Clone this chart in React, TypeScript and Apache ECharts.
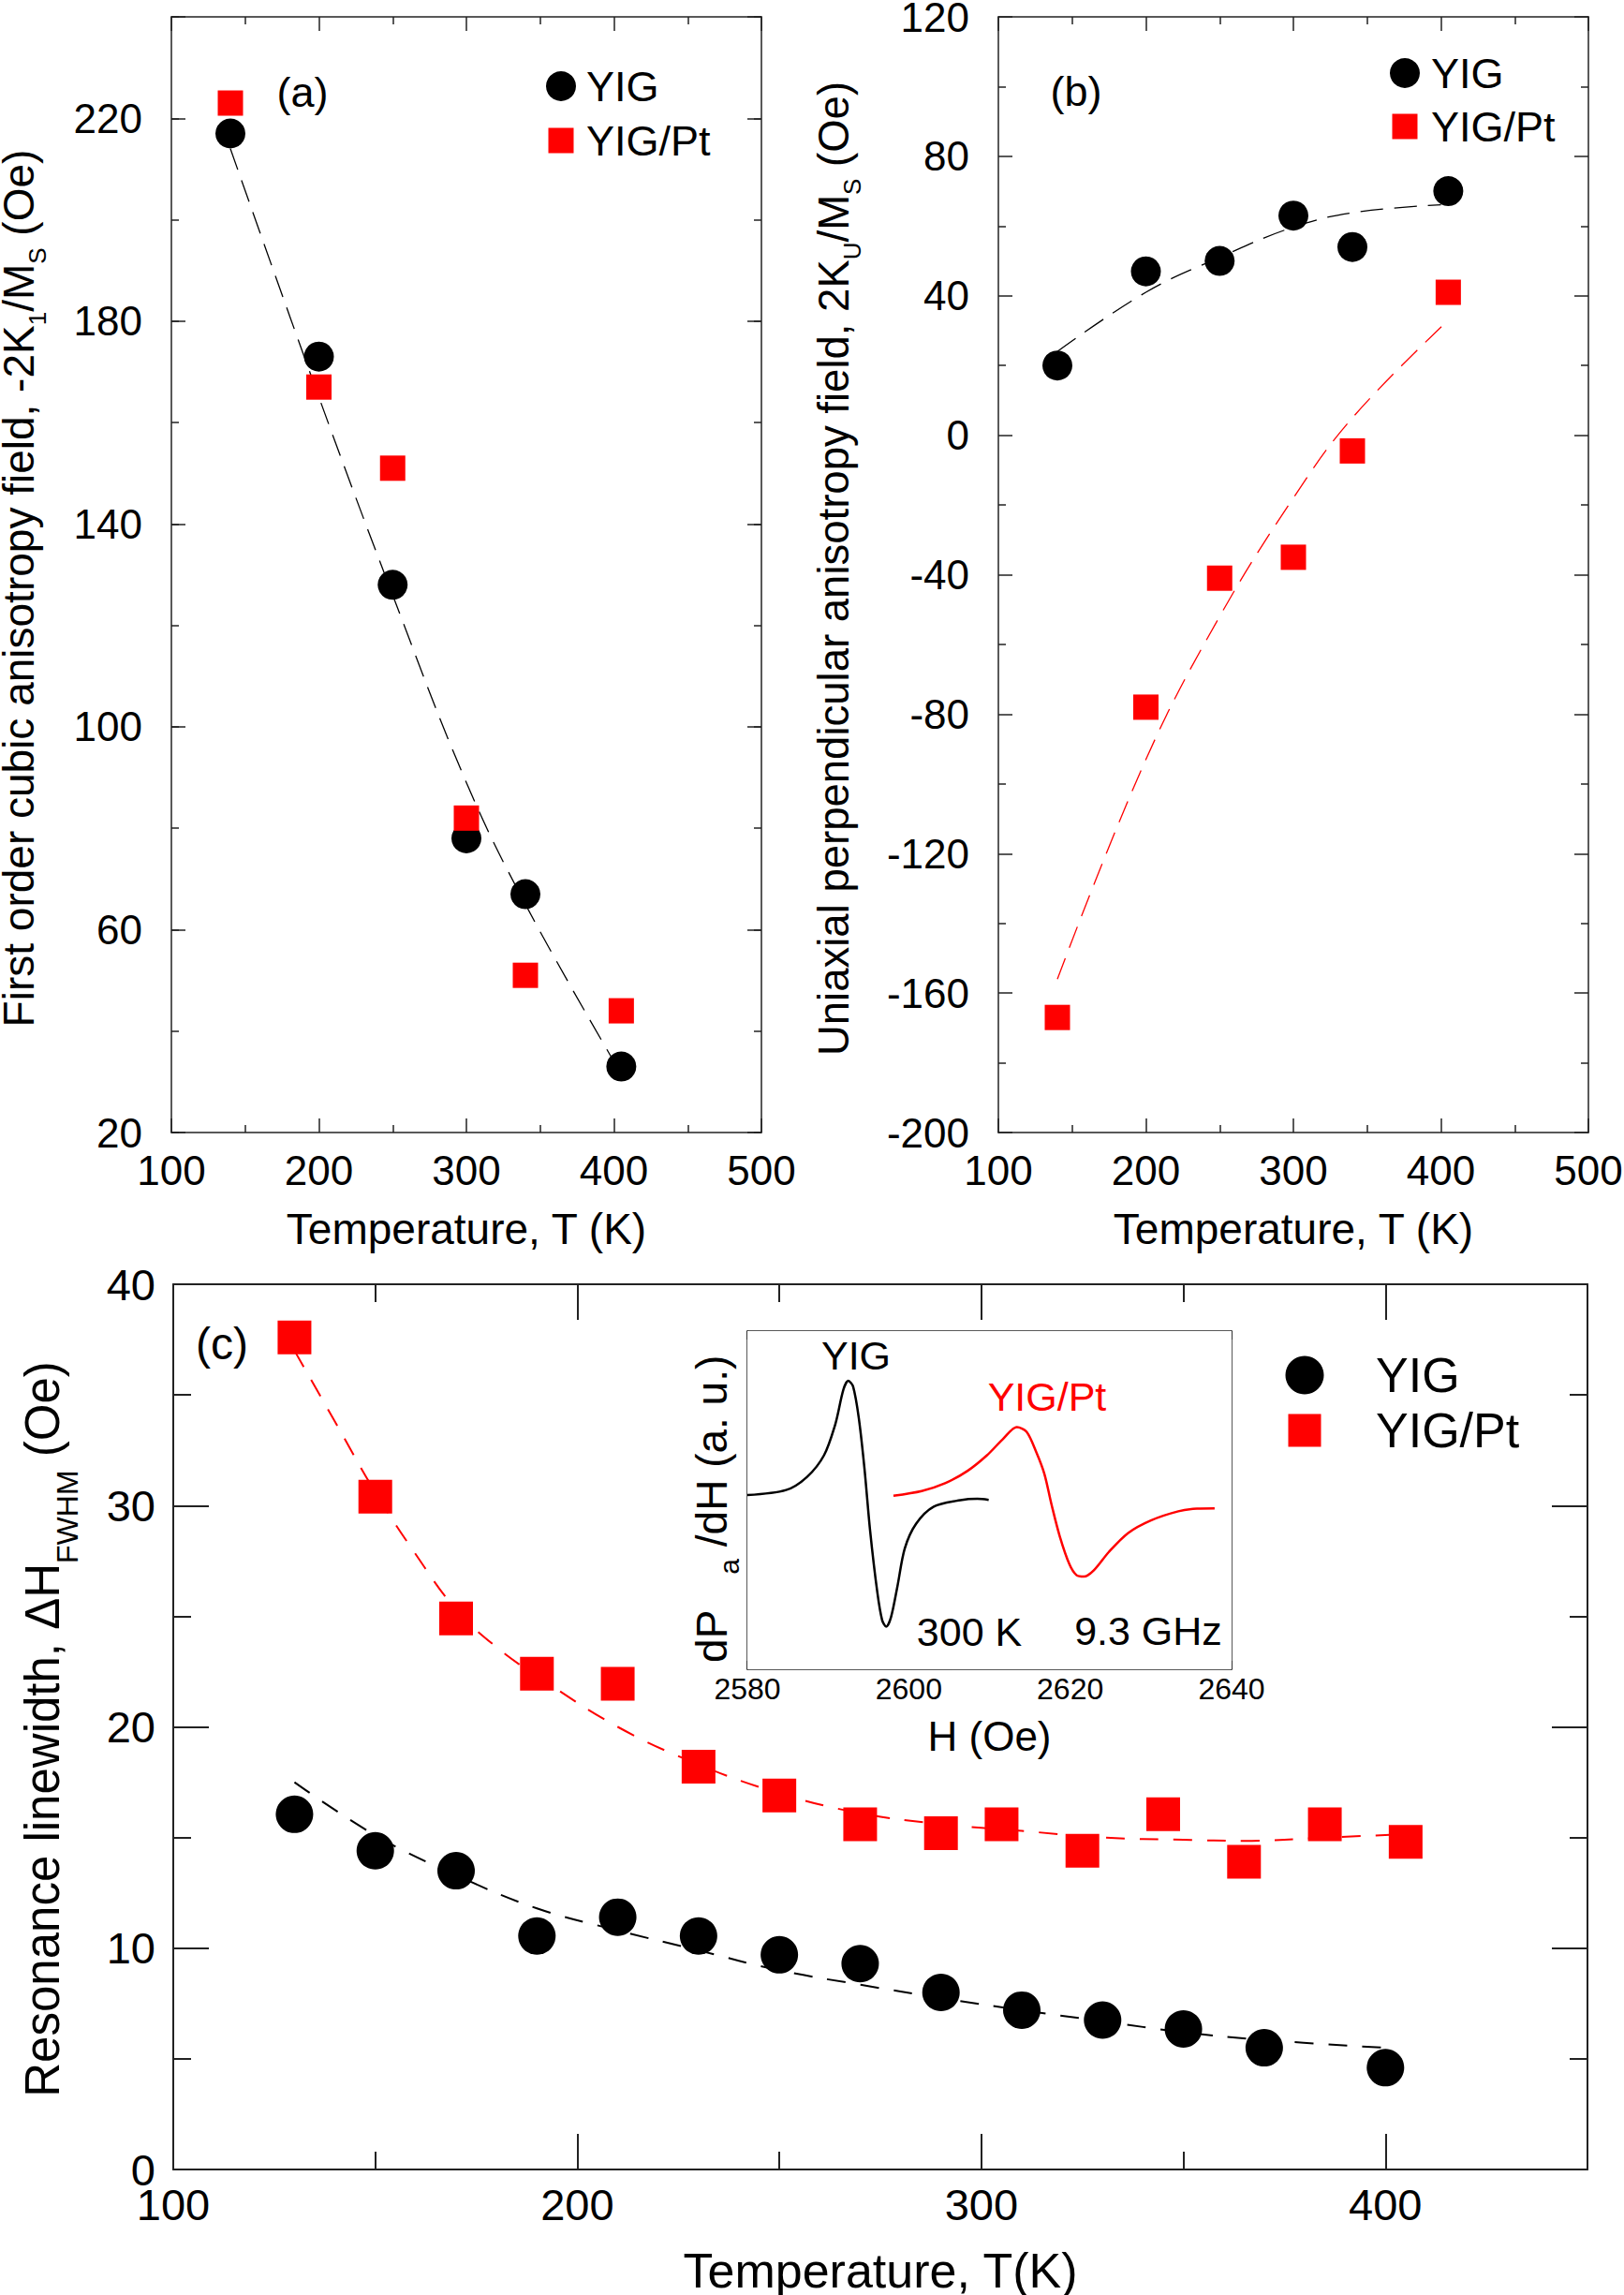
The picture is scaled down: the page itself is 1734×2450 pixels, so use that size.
import React, { useEffect, useRef } from 'react';
import * as echarts from 'echarts';

const FONT = "'Liberation Sans', Arial, Helvetica, sans-serif";

// ---------- Panel (a): first order cubic anisotropy field ----------
const tempA = [140, 200, 250, 300, 340, 405];
const cubicYIG = [217, 173, 128, 78, 67, 33];
const cubicYIGPt = [223, 167, 151, 82, 51, 44];
const cubicFitT = [140, 200, 250, 300, 340, 400];
const cubicFit = [214, 165, 126, 89, 65, 34];
const tickAX = [100, 200, 300, 400, 500];
const tickAY = [20, 60, 100, 140, 180, 220];

// ---------- Panel (b): uniaxial perpendicular anisotropy field ----------
const tempB = [140, 200, 250, 300, 340, 405];
const uniYIG = [20, 47, 50, 63, 54, 70];
const uniYIGPt = [-167, -78, -41, -35, -4.5, 41];
const uniFitYIGT = [140, 200, 250, 300, 340, 400];
const uniFitYIG = [24, 41, 51, 59.7, 63.8, 66.1];
const uniFitPtT = [140, 200, 250, 300, 340, 405];
const uniFitPt = [-156, -93, -52, -18, 5, 33];
const tickBY = [-200, -160, -120, -80, -40, 0, 40, 80, 120];

// ---------- Panel (c): resonance linewidth ----------
const tempCPt = [130, 150, 170, 190, 210, 230, 250, 270, 290, 305, 325, 345, 365, 385, 405];
const lwYIGPt = [37.6, 30.4, 24.9, 22.4, 21.95, 18.2, 16.9, 15.6, 15.2, 15.6, 14.4, 16.05, 13.9, 15.6, 14.8];
const tempCYIG = [130, 150, 170, 190, 210, 230, 250, 270, 290, 310, 330, 350, 370, 400];
const lwYIG = [16.05, 14.4, 13.5, 10.55, 11.4, 10.55, 9.7, 9.3, 8.0, 7.2, 6.75, 6.35, 5.5, 4.6];
const fitPtT = [130, 140, 150, 160, 170, 180, 190, 210, 230, 250, 270, 290, 310, 330, 350, 365, 385, 405];
const fitPt = [37.0, 33.8, 30.6, 27.8, 25.3, 23.6, 22.3, 20.0, 18.3, 17.0, 16.1, 15.6, 15.3, 15.0, 14.9, 14.85, 15.0, 15.15];
const fitYIGT = [130, 150, 170, 190, 210, 230, 250, 270, 290, 310, 330, 350, 370, 400];
const fitYIG = [17.5, 15.1, 13.3, 11.8, 10.8, 9.9, 9.0, 8.35, 7.75, 7.2, 6.7, 6.2, 5.85, 5.5];
const tickCX = [100, 200, 300, 400];
const tickCY = [0, 10, 20, 30, 40];

// ---------- Inset: FMR spectra ----------
const fieldYIG = [2580, 2584.8, 2587.4, 2589.5, 2590.9, 2591.9, 2592.5, 2593.1, 2593.8, 2594.5, 2595.2, 2596.1, 2596.7, 2597.2, 2597.8, 2598.6, 2599.5, 2600.9, 2603.1, 2606.4, 2608.5, 2609.9];
const signalYIG = [51.5, 53.0, 56.9, 63.3, 72.5, 82.7, 85.3, 83.6, 74.4, 59.6, 41.2, 22.8, 14.5, 12.6, 15.4, 24.6, 35.7, 43.0, 48.1, 50.0, 50.4, 50.1];
const fieldPt = [2598.1, 2601.6, 2604.5, 2607.3, 2609.7, 2611.6, 2613.4, 2614.6, 2615.8, 2616.8, 2617.7, 2618.7, 2619.9, 2620.8, 2621.7, 2622.9, 2624.8, 2627.2, 2630.0, 2633.4, 2635.7, 2637.9];
const signalPt = [51.3, 52.7, 55.0, 58.7, 63.3, 67.9, 71.6, 70.2, 64.2, 57.8, 48.6, 39.4, 31.1, 27.8, 27.4, 29.2, 34.7, 40.3, 44.0, 46.7, 47.5, 47.6];
const tickInsetX = [2580, 2600, 2620, 2640];

const RED = '#ff0000';
const BLACK = '#000000';

function zip(xs: number[], ys: number[]) {
  return xs.map((x, i) => [x, ys[i]]);
}

type AxisCfg = {
  grid: number;
  pos: 'top' | 'bottom' | 'left' | 'right';
  min: number;
  max: number;
  interval: number;
  labels?: number[];
  labelSize?: number;
  margin?: number;
  tick: number;
  minor?: number;
  color: string;
  width: number;
  showLine?: boolean;
  name?: string;
  nameGap?: number;
  nameSize?: number;
};

function axis(c: AxisCfg) {
  const labels = c.labels;
  return {
    type: 'value',
    gridIndex: c.grid,
    position: c.pos,
    min: c.min,
    max: c.max,
    interval: c.interval,
    axisLine: { show: c.showLine !== false, onZero: false, lineStyle: { color: c.color, width: c.width } },
    axisTick: { show: c.tick > 0, inside: true, length: c.tick, lineStyle: { color: c.color, width: c.width } },
    minorTick: { show: !!c.minor, splitNumber: 2, length: c.minor || 0, lineStyle: { color: c.color, width: c.width } },
    splitLine: { show: false },
    minorSplitLine: { show: false },
    axisLabel: labels
      ? {
          show: true,
          margin: c.margin,
          fontSize: c.labelSize,
          fontFamily: FONT,
          color: '#000',
          showMinLabel: true,
          showMaxLabel: true,
          formatter: (v: number) => (labels.some((l) => Math.abs(l - v) < 1e-6) ? String(v) : ''),
        }
      : { show: false },
    name: c.name || '',
    nameLocation: 'middle',
    nameGap: c.nameGap || 0,
    nameTextStyle: { fontSize: c.nameSize || 12, fontFamily: FONT, color: '#000' },
  };
}

const FR = '#222';

function buildOption() {
  const grid = [
    { left: 183, top: 18, width: 630, height: 1191, outerBoundsMode: 'none' },
    { left: 1066, top: 18, width: 630, height: 1191, outerBoundsMode: 'none' },
    { left: 185, top: 1371, width: 1510, height: 945, outerBoundsMode: 'none' },
    { left: 798, top: 1421, width: 517, height: 361, show: true, backgroundColor: '#fff', borderWidth: 0, outerBoundsMode: 'none', z: 5 },
  ];

  const xAxis = [
    axis({ grid: 0, pos: 'bottom', min: 100, max: 500, interval: 100, labels: tickAX, labelSize: 44, margin: 18, tick: 15, minor: 8, color: FR, width: 1.5, name: 'Temperature, T (K)', nameGap: 80, nameSize: 46 }),
    axis({ grid: 0, pos: 'top', min: 100, max: 500, interval: 100, tick: 15, minor: 8, color: FR, width: 1.5 }),
    axis({ grid: 1, pos: 'bottom', min: 100, max: 500, interval: 100, labels: tickAX, labelSize: 44, margin: 18, tick: 15, minor: 8, color: FR, width: 1.5, name: 'Temperature, T (K)', nameGap: 80, nameSize: 46 }),
    axis({ grid: 1, pos: 'top', min: 100, max: 500, interval: 100, tick: 15, minor: 8, color: FR, width: 1.5 }),
    axis({ grid: 2, pos: 'bottom', min: 100, max: 450, interval: 50, labels: tickCX, labelSize: 47, margin: 14, tick: 19, color: FR, width: 2, name: 'Temperature, T(K)', nameGap: 82, nameSize: 52 }),
    axis({ grid: 2, pos: 'bottom', min: 100, max: 450, interval: 100, tick: 38, color: FR, width: 2, showLine: false }),
    axis({ grid: 2, pos: 'top', min: 100, max: 450, interval: 50, tick: 19, color: FR, width: 2 }),
    axis({ grid: 2, pos: 'top', min: 100, max: 450, interval: 100, tick: 38, color: FR, width: 2, showLine: false }),
    axis({ grid: 3, pos: 'bottom', min: 2580, max: 2640, interval: 10, labels: tickInsetX, labelSize: 32, margin: 5, tick: 9, color: FR, width: 1.5, name: 'H (Oe)', nameGap: 49, nameSize: 44 }),
    axis({ grid: 3, pos: 'top', min: 2580, max: 2640, interval: 10, tick: 9, color: FR, width: 1.5 }),
  ];

  const yAxis = [
    axis({ grid: 0, pos: 'left', min: 20, max: 240, interval: 20, labels: tickAY, labelSize: 44, margin: 31, tick: 8, color: FR, width: 1.5 }),
    axis({ grid: 0, pos: 'left', min: 20, max: 240, interval: 40, tick: 15, color: FR, width: 1.5, showLine: false }),
    axis({ grid: 0, pos: 'right', min: 20, max: 240, interval: 20, tick: 8, color: FR, width: 1.5 }),
    axis({ grid: 0, pos: 'right', min: 20, max: 240, interval: 40, tick: 15, color: FR, width: 1.5, showLine: false }),
    axis({ grid: 1, pos: 'left', min: -200, max: 120, interval: 40, labels: tickBY, labelSize: 44, margin: 31, tick: 15, minor: 8, color: FR, width: 1.5 }),
    axis({ grid: 1, pos: 'right', min: -200, max: 120, interval: 40, tick: 15, minor: 8, color: FR, width: 1.5 }),
    axis({ grid: 2, pos: 'left', min: 0, max: 40, interval: 10, labels: tickCY, labelSize: 47, margin: 19, tick: 38, minor: 19, color: FR, width: 2 }),
    axis({ grid: 2, pos: 'right', min: 0, max: 40, interval: 10, tick: 38, minor: 19, color: FR, width: 2 }),
    axis({ grid: 3, pos: 'left', min: 0, max: 100, interval: 50, tick: 0, color: FR, width: 1.5 }),
    axis({ grid: 3, pos: 'right', min: 0, max: 100, interval: 50, tick: 0, color: FR, width: 1.5 }),
  ];

  const fitLine = (name: string, xi: number, yi: number, xs: number[], ys: number[], color: string, width: number, dash: number[]) => ({
    name,
    type: 'line',
    xAxisIndex: xi,
    yAxisIndex: yi,
    data: zip(xs, ys),
    symbol: 'none',
    smooth: 0.4,
    lineStyle: { color, width, type: dash },
    z: 2,
    silent: true,
  });
  const scatter = (name: string, xi: number, yi: number, xs: number[], ys: number[], symbol: string, size: number, color: string) => ({
    name,
    type: 'scatter',
    xAxisIndex: xi,
    yAxisIndex: yi,
    data: zip(xs, ys),
    symbol,
    symbolSize: size,
    itemStyle: { color, opacity: 1 },
    z: 4,
  });

  const series = [
    fitLine('fit a', 0, 0, cubicFitT, cubicFit, BLACK, 1.3, [24, 12]),
    scatter('YIG', 0, 0, tempA, cubicYIG, 'circle', 32, BLACK),
    scatter('YIG/Pt', 0, 0, tempA, cubicYIGPt, 'rect', 27, RED),

    fitLine('fit b YIG', 2, 4, uniFitYIGT, uniFitYIG, BLACK, 1.3, [24, 12]),
    fitLine('fit b YIG/Pt', 2, 4, uniFitPtT, uniFitPt, RED, 1.3, [24, 12]),
    scatter('YIG', 2, 4, tempB, uniYIG, 'circle', 32, BLACK),
    scatter('YIG/Pt', 2, 4, tempB, uniYIGPt, 'rect', 27, RED),

    fitLine('fit c YIG/Pt', 4, 6, fitPtT, fitPt, RED, 2, [20, 16]),
    fitLine('fit c YIG', 4, 6, fitYIGT, fitYIG, BLACK, 2, [20, 16]),
    scatter('YIG/Pt', 4, 6, tempCPt, lwYIGPt, 'rect', 36, RED),
    scatter('YIG', 4, 6, tempCYIG, lwYIG, 'circle', 40, BLACK),

    {
      name: 'inset YIG', type: 'line', xAxisIndex: 8, yAxisIndex: 8, data: zip(fieldYIG, signalYIG),
      symbol: 'none', smooth: 0.3, lineStyle: { color: BLACK, width: 2.5 }, z: 6, silent: true,
    },
    {
      name: 'inset YIG/Pt', type: 'line', xAxisIndex: 8, yAxisIndex: 8, data: zip(fieldPt, signalPt),
      symbol: 'none', smooth: 0.3, lineStyle: { color: RED, width: 2.5 }, z: 6, silent: true,
    },
  ];

  const txt = (x: number, y: number, text: string, size: number, color = '#000', align = 'left') => ({
    type: 'text', x, y, z: 10,
    style: { text, fontSize: size, fontFamily: FONT, fill: color, align, verticalAlign: 'middle' },
  });
  const vtitle = (x: number, y: number, text: string, size: number, sub: number, lh: number) => ({
    type: 'text', x, y, rotation: Math.PI / 2, z: 10,
    style: {
      text, fontSize: size, fontFamily: FONT, fill: '#000', align: 'center', verticalAlign: 'middle', lineHeight: lh,
      rich: { sub: { fontSize: sub, fontFamily: FONT, fill: '#000', lineHeight: sub, verticalAlign: 'bottom' } },
    },
  });

  const graphic = [
    vtitle(20, 628, 'First order cubic anisotropy field, -2K{sub|1}/M{sub|S} (Oe)', 46, 26, 66),
    vtitle(890, 607, 'Uniaxial perpendicular anisotropy field, 2K{sub|U}/M{sub|S} (Oe)', 45.5, 26, 66),
    vtitle(45, 1846, 'Resonance linewidth, \u0394H{sub|FWHM} (Oe)', 51, 32, 85),
    vtitle(760, 1611, 'dP   {sub|a} /dH (a. u.)', 46, 30, 66),

    txt(323, 98, '(a)', 45, '#000', 'center'),
    txt(1149, 97, '(b)', 45, '#000', 'center'),
    txt(237, 1434, '(c)', 48, '#000', 'center'),

    { type: 'circle', z: 10, shape: { cx: 599, cy: 92, r: 16 }, style: { fill: BLACK } },
    txt(626, 92, 'YIG', 45),
    { type: 'rect', z: 10, shape: { x: 585.5, y: 136.5, width: 27, height: 27 }, style: { fill: RED } },
    txt(626, 150, 'YIG/Pt', 45),

    { type: 'circle', z: 10, shape: { cx: 1500, cy: 78, r: 16 }, style: { fill: BLACK } },
    txt(1528, 78, 'YIG', 45),
    { type: 'rect', z: 10, shape: { x: 1486.5, y: 121.5, width: 27, height: 27 }, style: { fill: RED } },
    txt(1528, 135, 'YIG/Pt', 45),

    { type: 'circle', z: 10, shape: { cx: 1393, cy: 1468, r: 20.5 }, style: { fill: BLACK } },
    txt(1469, 1468, 'YIG', 52),
    { type: 'rect', z: 10, shape: { x: 1375.5, y: 1509.5, width: 35, height: 35 }, style: { fill: RED } },
    txt(1469, 1527, 'YIG/Pt', 52),

    txt(914, 1447, 'YIG', 43, '#000', 'center'),
    txt(1118, 1491, 'YIG/Pt', 43, RED, 'center'),
    txt(1035, 1742, '300 K', 43, '#000', 'center'),
    txt(1226, 1741, '9.3 GHz', 43, '#000', 'center'),
  ];

  return {
    animation: false,
    backgroundColor: '#fff',
    grid,
    xAxis,
    yAxis,
    series,
    graphic,
  };
}

export default function App() {
  const ref = useRef<HTMLDivElement>(null);
  useEffect(() => {
    if (!ref.current) return;
    const chart = echarts.init(ref.current, undefined, { renderer: 'svg' });
    chart.setOption(buildOption() as any);
    return () => chart.dispose();
  }, []);
  return (
    <div
      ref={ref}
      style={{ position: 'absolute', left: 0, top: 0, width: 1734, height: 2450, background: '#fff' }}
    />
  );
}
